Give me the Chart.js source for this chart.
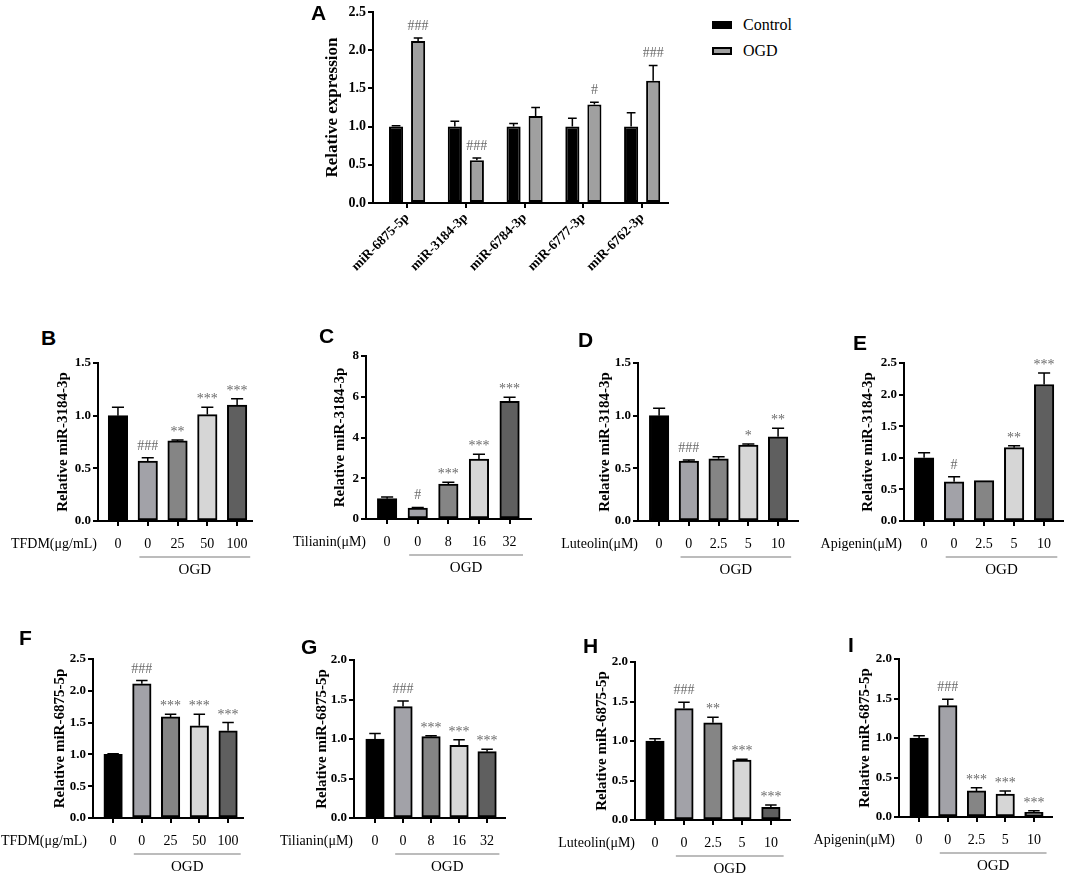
<!DOCTYPE html>
<html><head><meta charset="utf-8">
<script src="https://cdn.jsdelivr.net/npm/chart.js@4.4.0/dist/chart.umd.min.js"></script>
<style>
body{margin:0;background:#fff;width:1072px;height:873px;position:relative;overflow:hidden}
canvas{position:absolute}
.lbl{position:absolute;font:bold 21px "Liberation Sans",Arial,sans-serif;line-height:1;color:#000;z-index:2}
.leg{position:absolute;font:16px "Liberation Serif","Times New Roman",serif;line-height:1;color:#000}
.box{position:absolute;width:20px;height:8px;box-sizing:border-box;border:2px solid #000}
</style></head><body>
<div class="lbl" style="left:311px;top:2px">A</div>
<div class="lbl" style="left:41px;top:327px">B</div>
<div class="lbl" style="left:319px;top:325px">C</div>
<div class="lbl" style="left:578px;top:329px">D</div>
<div class="lbl" style="left:853px;top:332px">E</div>
<div class="lbl" style="left:19px;top:627px">F</div>
<div class="lbl" style="left:301px;top:636px">G</div>
<div class="lbl" style="left:583px;top:635px">H</div>
<div class="lbl" style="left:848px;top:634px">I</div>

<div class="box" style="left:712px;top:21px;background:#000"></div>
<div class="leg" style="left:743px;top:17px">Control</div>
<div class="box" style="left:712px;top:47px;background:#a0a0a0"></div>
<div class="leg" style="left:743px;top:43px">OGD</div>

<canvas id="cA"></canvas>
<canvas id="cB"></canvas>
<canvas id="cC"></canvas>
<canvas id="cD"></canvas>
<canvas id="cE"></canvas>
<canvas id="cF"></canvas>
<canvas id="cG"></canvas>
<canvas id="cH"></canvas>
<canvas id="cI"></canvas>
<script>
// ---------- DATA ----------
const miRNAs = ['miR-6875-5p','miR-3184-3p','miR-6784-3p','miR-6777-3p','miR-6762-3p'];
const aControl    = [1.00, 1.00, 1.00, 1.00, 1.00];
const aControlErr = [0.01, 0.07, 0.04, 0.11, 0.18];
const aOGD        = [2.12, 0.56, 1.14, 1.29, 1.60];
const aOGDErr     = [0.04, 0.03, 0.11, 0.03, 0.20];
const aOGDMarks   = ['###','###','','#','###'];

const tfdmDoses     = ['0','0','25','50','100'];
const tilianinDoses = ['0','0','8','16','32'];
const luteolinDoses = ['0','0','2.5','5','10'];
const apigeninDoses = ['0','0','2.5','5','10'];

const bValues = [1.00, 0.57, 0.76, 1.01, 1.10];
const bErr    = [0.08, 0.03, 0.01, 0.07, 0.06];
const bMarks  = ['', '###', '**', '***', '***'];

const cValues = [1.00, 0.54, 1.72, 2.94, 5.78];
const cErr    = [0.08, 0.03, 0.08, 0.24, 0.20];
const cMarks  = ['', '#', '***', '***', '***'];

const dValues = [1.00, 0.57, 0.59, 0.72, 0.80];
const dErr    = [0.07, 0.01, 0.02, 0.01, 0.08];
const dMarks  = ['', '###', '', '*', '**'];

const eValues = [1.00, 0.62, 0.64, 1.16, 2.16];
const eErr    = [0.08, 0.08, 0.00, 0.03, 0.18];
const eMarks  = ['', '#', '', '**', '***'];

const fValues = [1.00, 2.11, 1.59, 1.45, 1.37];
const fErr    = [0.01, 0.05, 0.04, 0.18, 0.13];
const fMarks  = ['', '###', '***', '***', '***'];

const gValues = [1.00, 1.41, 1.03, 0.92, 0.84];
const gErr    = [0.07, 0.07, 0.01, 0.07, 0.03];
const gMarks  = ['', '###', '***', '***', '***'];

const hValues = [1.00, 1.41, 1.23, 0.76, 0.16];
const hErr    = [0.03, 0.08, 0.07, 0.01, 0.03];
const hMarks  = ['', '###', '**', '***', '***'];

const iValues = [1.00, 1.41, 0.33, 0.29, 0.06];
const iErr    = [0.03, 0.08, 0.04, 0.04, 0.02];
const iMarks  = ['', '###', '***', '***', '***'];

// ---------- STYLE ----------
const serif = '"Liberation Serif","Times New Roman",serif';
const barColors = ['#000000','#a2a2a8','#858585','#d6d6d6','#5f5f5f'];

function extrasPlugin(cfg) {
  return {
    id: 'extras',
    afterDatasetsDraw(chart) {
      const ctx = chart.ctx, ys = chart.scales.y;
      ctx.save();
      chart.data.datasets.forEach((ds, di) => {
        const meta = chart.getDatasetMeta(di);
        meta.data.forEach((bar, i) => {
          const v = ds.data[i].y, e = cfg.errs[di][i];
          const top = ys.getPixelForValue(v + e);
          const capW = bar.width * 0.62;
          ctx.strokeStyle = '#000'; ctx.lineWidth = 1.5;
          if (e > 0) {
            ctx.beginPath();
            ctx.moveTo(bar.x, bar.y); ctx.lineTo(bar.x, top);
            ctx.moveTo(bar.x - capW / 2, top); ctx.lineTo(bar.x + capW / 2, top);
            ctx.stroke();
          }
          const m = cfg.marks[di][i];
          if (m) {
            ctx.fillStyle = '#6a6a6a';
            ctx.font = '14px ' + serif;
            ctx.textAlign = 'center'; ctx.textBaseline = 'alphabetic';
            ctx.fillText(m, bar.x, top - (m[0] === '#' ? 8 : 4));
          }
        });
      });
      ctx.restore();
    },
    afterDraw(chart) {
      if (!cfg.treatment) return;
      const ctx = chart.ctx, xs = chart.scales.x, ca = chart.chartArea;
      ctx.save();
      ctx.fillStyle = '#000';
      ctx.font = '14px ' + serif;
      ctx.textAlign = 'right'; ctx.textBaseline = 'middle';
      ctx.fillText(cfg.treatment, ca.left - cfg.labelGap, ca.bottom + 23);
      const xa = xs.getPixelForValue(0.72), xb = xs.getPixelForValue(4.44);
      ctx.strokeStyle = '#7a7a7a'; ctx.lineWidth = 1.2;
      ctx.beginPath(); ctx.moveTo(xa, ca.bottom + 36); ctx.lineTo(xb, ca.bottom + 36); ctx.stroke();
      ctx.font = '15px ' + serif; ctx.textAlign = 'center';
      ctx.fillText('OGD', (xa + xb) / 2, ca.bottom + 49);
      ctx.restore();
    }
  };
}

function axisGrid() {
  return {display: true, offset: false, drawOnChartArea: false, drawTicks: true, tickLength: 5, color: '#000', lineWidth: 2};
}

function makePanel(id, g, d) {
  const canvas = document.getElementById(id);
  const W = 100, T = 12, R = 10, BH = g.bh || 62;
  const width = g.x1 - g.x0 + W + R, height = g.yBot - g.yTop + T + BH;
  canvas.style.left = (g.x0 - W) + 'px';
  canvas.style.top = (g.yTop - T) + 'px';
  canvas.width = width; canvas.height = height;
  canvas.style.width = width + 'px'; canvas.style.height = height + 'px';
  const tSize = g.titleSize || 15;
  const tPad = W - g.titleOff - tSize * 1.2 / 2;
  const labels = d.labels;
  new Chart(canvas, {
    type: 'bar',
    data: {datasets: d.datasets},
    options: {
      responsive: false, animation: false,
      layout: {padding: {left: 0, top: T, right: R, bottom: 0}},
      plugins: {legend: {display: false}, tooltip: {enabled: false}},
      scales: {
        x: {
          type: 'linear', offset: false, bounds: 'data', grace: 0, min: g.min, max: g.max,
          afterDataLimits: s => { s.min = g.min; s.max = g.max; },
          afterBuildTicks: s => { s.ticks = labels.map((_, i) => ({value: i})); },
          afterFit: s => { s.height = BH; },
          ticks: {autoSkip: false, color: '#000',
            minRotation: g.rot || 0, maxRotation: g.rot || 0,
            padding: g.xPad != null ? g.xPad : 10,
            font: {family: serif, size: g.xSize || 14, weight: g.xBold ? 'bold' : 'normal'},
            callback: v => labels[v]},
          grid: axisGrid(),
          border: {display: true, color: '#000', width: 2}
        },
        y: {
          min: 0, max: d.yMax,
          afterFit: s => { s.width = W; },
          ticks: {stepSize: d.yStep, color: '#000', padding: 2,
            font: {family: serif, size: g.yTickSize || 13, weight: 'bold'},
            callback: v => d.dec === 0 ? String(v) : Number(v).toFixed(1)},
          grid: axisGrid(),
          border: {display: true, color: '#000', width: 2},
          title: {display: true, text: d.yTitle, color: '#000',
            font: {family: serif, size: tSize, weight: 'bold'},
            padding: {top: tPad, bottom: 0}}
        }
      }
    },
    plugins: [extrasPlugin({errs: d.errs, marks: d.marks, treatment: d.treatment, labelGap: g.labelGap || 0})]
  });
}

function singleSet(values, bw) {
  return [{
    data: values.map((v, i) => ({x: i, y: v})),
    backgroundColor: barColors, borderColor: '#000', borderWidth: 2,
    borderSkipped: false, barThickness: bw
  }];
}

// ---------- PANEL A ----------
makePanel('cA',
  {x0: 373, x1: 668, yTop: 12, yBot: 203, min: -0.58, max: 4.44, bh: 72, titleOff: 40, titleSize: 17,
   yTickSize: 14, rot: 45, xPad: 2, xSize: 13.5, xBold: true},
  {labels: miRNAs, yMax: 2.5, yStep: 0.5, yTitle: 'Relative expression',
   datasets: [
     {label: 'Control', data: aControl.map((v, i) => ({x: i, y: v})), backgroundColor: '#000000',
      borderColor: '#000', borderWidth: 2, borderSkipped: false, categoryPercentage: 0.75, barPercentage: 0.64},
     {label: 'OGD', data: aOGD.map((v, i) => ({x: i, y: v})), backgroundColor: '#a0a0a0',
      borderColor: '#000', borderWidth: 2, borderSkipped: false, categoryPercentage: 0.75, barPercentage: 0.64}
   ],
   errs: [aControlErr, aOGDErr], marks: [['','','','',''], aOGDMarks]});

// ---------- ROW 2 ----------
const t3184 = 'Relative miR-3184-3p', t6875 = 'Relative miR-6875-5p';
makePanel('cB', {x0: 98, x1: 252, yTop: 363, yBot: 521, min: -0.67, max: 4.5, titleOff: 35, labelGap: 1},
  {labels: tfdmDoses, yMax: 1.5, yStep: 0.5, yTitle: t3184, datasets: singleSet(bValues, 19.5),
   errs: [bErr], marks: [bMarks], treatment: 'TFDM(μg/mL)'});
makePanel('cC', {x0: 366, x1: 531, yTop: 356, yBot: 519, min: -0.69, max: 4.7, titleOff: 26, labelGap: 0},
  {labels: tilianinDoses, yMax: 8, yStep: 2, dec: 0, yTitle: t3184, datasets: singleSet(cValues, 19.5),
   errs: [cErr], marks: [cMarks], treatment: 'Tilianin(μM)'});
makePanel('cD', {x0: 638, x1: 798, yTop: 363, yBot: 521, min: -0.71, max: 4.67, titleOff: 33, labelGap: 0},
  {labels: luteolinDoses, yMax: 1.5, yStep: 0.5, yTitle: t3184, datasets: singleSet(dValues, 19.5),
   errs: [dErr], marks: [dMarks], treatment: 'Luteolin(μM)'});
makePanel('cE', {x0: 904, x1: 1063, yTop: 363, yBot: 521, min: -0.67, max: 4.63, titleOff: 36, labelGap: 2},
  {labels: apigeninDoses, yMax: 2.5, yStep: 0.5, yTitle: t3184, datasets: singleSet(eValues, 19.5),
   errs: [eErr], marks: [eMarks], treatment: 'Apigenin(μM)'});

// ---------- ROW 3 ----------
makePanel('cF', {x0: 93, x1: 243, yTop: 659, yBot: 818, min: -0.70, max: 4.52, titleOff: 33, labelGap: 6},
  {labels: tfdmDoses, yMax: 2.5, yStep: 0.5, yTitle: t6875, datasets: singleSet(fValues, 18.5),
   errs: [fErr], marks: [fMarks], treatment: 'TFDM(μg/mL)'});
makePanel('cG', {x0: 354, x1: 505, yTop: 660, yBot: 818, min: -0.75, max: 4.64, titleOff: 32, labelGap: 1},
  {labels: tilianinDoses, yMax: 2.0, yStep: 0.5, yTitle: t6875, datasets: singleSet(gValues, 18.5),
   errs: [gErr], marks: [gMarks], treatment: 'Tilianin(μM)'});
makePanel('cH', {x0: 635, x1: 790, yTop: 662, yBot: 820, min: -0.69, max: 4.66, titleOff: 33, labelGap: 0},
  {labels: luteolinDoses, yMax: 2.0, yStep: 0.5, yTitle: t6875, datasets: singleSet(hValues, 18.5),
   errs: [hErr], marks: [hMarks], treatment: 'Luteolin(μM)'});
makePanel('cI', {x0: 899, x1: 1052, yTop: 659, yBot: 817, min: -0.70, max: 4.63, titleOff: 34, labelGap: 4},
  {labels: apigeninDoses, yMax: 2.0, yStep: 0.5, yTitle: t6875, datasets: singleSet(iValues, 18.5),
   errs: [iErr], marks: [iMarks], treatment: 'Apigenin(μM)'});
</script>
</body></html>
